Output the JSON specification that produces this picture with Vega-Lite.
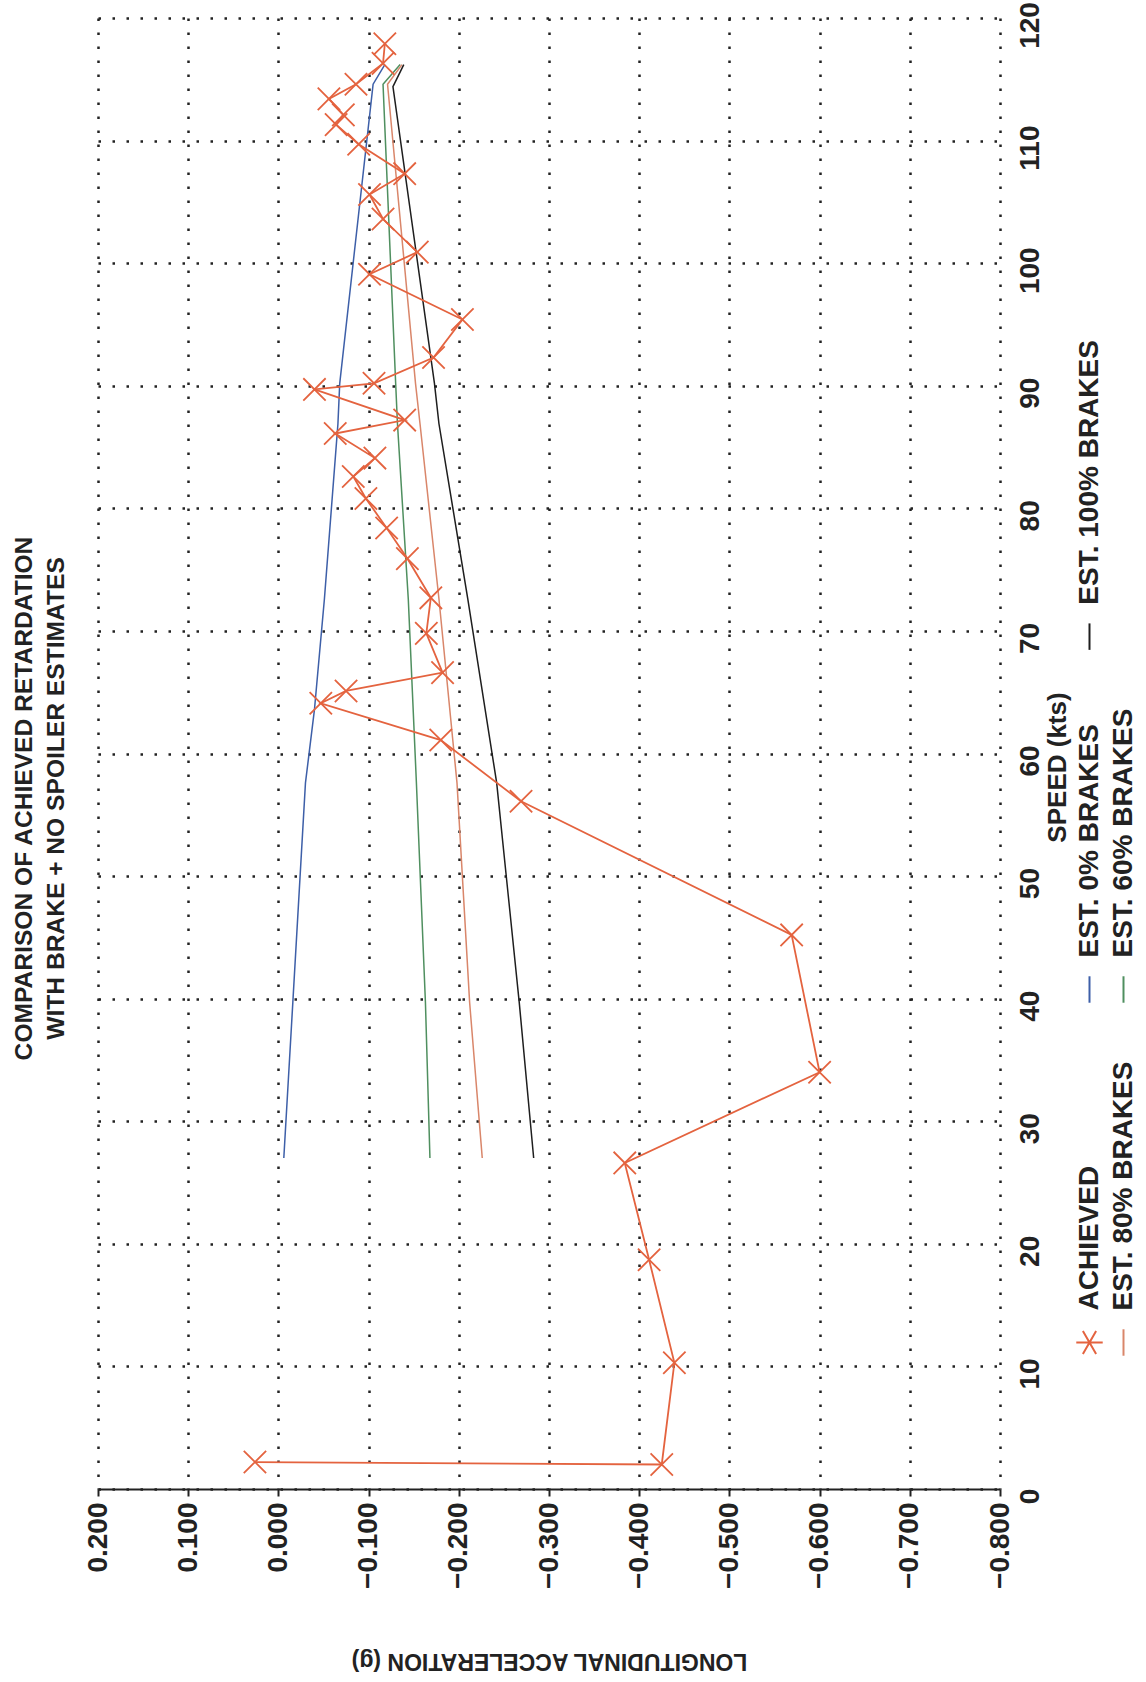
{
  "$schema": "https://vega.github.io/schema/vega-lite/v6.json",
  "width": 902,
  "height": 1471,
  "autosize": {"type": "none"},
  "padding": {"left": 98, "top": 18, "right": 146, "bottom": 193},
  "background": "white",
  "config": {"view": {"stroke": null}},
  "title": {
    "text": ["COMPARISON OF ACHIEVED RETARDATION", "WITH BRAKE + NO SPOILER ESTIMATES"],
    "orient": "left",
    "anchor": "middle",
    "frame": "group",
    "offset": 14,
    "dx": -45,
    "font": "Liberation Sans",
    "fontSize": 24.6,
    "fontWeight": "bold",
    "color": "#222",
    "lineHeight": 32
  },
  "datasets": {
    "achieved": [
      {"i": 1, "speed": 117.9, "acc": -0.118, "series": "ACHIEVED"},
      {"i": 2, "speed": 116.3, "acc": -0.116, "series": "ACHIEVED"},
      {"i": 3, "speed": 114.6, "acc": -0.086, "series": "ACHIEVED"},
      {"i": 4, "speed": 113.4, "acc": -0.056, "series": "ACHIEVED"},
      {"i": 5, "speed": 112.1, "acc": -0.072, "series": "ACHIEVED"},
      {"i": 6, "speed": 111.3, "acc": -0.064, "series": "ACHIEVED"},
      {"i": 7, "speed": 109.7, "acc": -0.089, "series": "ACHIEVED"},
      {"i": 8, "speed": 107.3, "acc": -0.140, "series": "ACHIEVED"},
      {"i": 9, "speed": 105.6, "acc": -0.101, "series": "ACHIEVED"},
      {"i": 10, "speed": 103.6, "acc": -0.116, "series": "ACHIEVED"},
      {"i": 11, "speed": 100.9, "acc": -0.154, "series": "ACHIEVED"},
      {"i": 12, "speed": 99.1, "acc": -0.101, "series": "ACHIEVED"},
      {"i": 13, "speed": 95.4, "acc": -0.204, "series": "ACHIEVED"},
      {"i": 14, "speed": 92.3, "acc": -0.172, "series": "ACHIEVED"},
      {"i": 15, "speed": 90.2, "acc": -0.106, "series": "ACHIEVED"},
      {"i": 16, "speed": 89.7, "acc": -0.040, "series": "ACHIEVED"},
      {"i": 17, "speed": 87.2, "acc": -0.140, "series": "ACHIEVED"},
      {"i": 18, "speed": 86.1, "acc": -0.063, "series": "ACHIEVED"},
      {"i": 19, "speed": 84.1, "acc": -0.107, "series": "ACHIEVED"},
      {"i": 20, "speed": 82.6, "acc": -0.083, "series": "ACHIEVED"},
      {"i": 21, "speed": 80.8, "acc": -0.097, "series": "ACHIEVED"},
      {"i": 22, "speed": 78.4, "acc": -0.120, "series": "ACHIEVED"},
      {"i": 23, "speed": 75.9, "acc": -0.143, "series": "ACHIEVED"},
      {"i": 24, "speed": 72.7, "acc": -0.169, "series": "ACHIEVED"},
      {"i": 25, "speed": 69.8, "acc": -0.164, "series": "ACHIEVED"},
      {"i": 26, "speed": 66.6, "acc": -0.182, "series": "ACHIEVED"},
      {"i": 27, "speed": 65.1, "acc": -0.075, "series": "ACHIEVED"},
      {"i": 28, "speed": 64.1, "acc": -0.047, "series": "ACHIEVED"},
      {"i": 29, "speed": 61.1, "acc": -0.180, "series": "ACHIEVED"},
      {"i": 30, "speed": 56.1, "acc": -0.269, "series": "ACHIEVED"},
      {"i": 31, "speed": 45.2, "acc": -0.569, "series": "ACHIEVED"},
      {"i": 32, "speed": 34.0, "acc": -0.600, "series": "ACHIEVED"},
      {"i": 33, "speed": 26.6, "acc": -0.384, "series": "ACHIEVED"},
      {"i": 34, "speed": 18.7, "acc": -0.411, "series": "ACHIEVED"},
      {"i": 35, "speed": 10.3, "acc": -0.439, "series": "ACHIEVED"},
      {"i": 36, "speed": 2.0, "acc": -0.425, "series": "ACHIEVED"},
      {"i": 37, "speed": 2.2, "acc": 0.026, "series": "ACHIEVED"}
    ],
    "estimates": [
      {"series": "EST. 0% BRAKES", "speed": 27.0, "acc": -0.006},
      {"series": "EST. 0% BRAKES", "speed": 39.7, "acc": -0.016},
      {"series": "EST. 0% BRAKES", "speed": 57.6, "acc": -0.030},
      {"series": "EST. 0% BRAKES", "speed": 63.6, "acc": -0.040},
      {"series": "EST. 0% BRAKES", "speed": 72.6, "acc": -0.051},
      {"series": "EST. 0% BRAKES", "speed": 86.9, "acc": -0.066},
      {"series": "EST. 0% BRAKES", "speed": 90.2, "acc": -0.068},
      {"series": "EST. 0% BRAKES", "speed": 114.6, "acc": -0.105},
      {"series": "EST. 0% BRAKES", "speed": 116.2, "acc": -0.118},
      {"series": "EST. 60% BRAKES", "speed": 27.0, "acc": -0.168},
      {"series": "EST. 60% BRAKES", "speed": 39.7, "acc": -0.163},
      {"series": "EST. 60% BRAKES", "speed": 57.6, "acc": -0.153},
      {"series": "EST. 60% BRAKES", "speed": 72.6, "acc": -0.144},
      {"series": "EST. 60% BRAKES", "speed": 86.9, "acc": -0.132},
      {"series": "EST. 60% BRAKES", "speed": 90.2, "acc": -0.130},
      {"series": "EST. 60% BRAKES", "speed": 114.6, "acc": -0.116},
      {"series": "EST. 60% BRAKES", "speed": 116.2, "acc": -0.135},
      {"series": "EST. 80% BRAKES", "speed": 27.0, "acc": -0.226},
      {"series": "EST. 80% BRAKES", "speed": 39.7, "acc": -0.212},
      {"series": "EST. 80% BRAKES", "speed": 57.6, "acc": -0.198},
      {"series": "EST. 80% BRAKES", "speed": 72.6, "acc": -0.178},
      {"series": "EST. 80% BRAKES", "speed": 86.9, "acc": -0.157},
      {"series": "EST. 80% BRAKES", "speed": 90.2, "acc": -0.152},
      {"series": "EST. 80% BRAKES", "speed": 114.6, "acc": -0.121},
      {"series": "EST. 80% BRAKES", "speed": 116.2, "acc": -0.137},
      {"series": "EST. 100% BRAKES", "speed": 27.0, "acc": -0.283},
      {"series": "EST. 100% BRAKES", "speed": 39.7, "acc": -0.267},
      {"series": "EST. 100% BRAKES", "speed": 57.6, "acc": -0.242},
      {"series": "EST. 100% BRAKES", "speed": 72.6, "acc": -0.210},
      {"series": "EST. 100% BRAKES", "speed": 86.9, "acc": -0.178},
      {"series": "EST. 100% BRAKES", "speed": 90.2, "acc": -0.173},
      {"series": "EST. 100% BRAKES", "speed": 114.4, "acc": -0.127},
      {"series": "EST. 100% BRAKES", "speed": 116.2, "acc": -0.139}
    ],
    "zeroLine": [
      {"speed": 0}, {"speed": 10}, {"speed": 20}, {"speed": 30}, {"speed": 40}, {"speed": 50}, {"speed": 60},
      {"speed": 70}, {"speed": 80}, {"speed": 90}, {"speed": 100}, {"speed": 110}, {"speed": 120}
    ]
  },
  "encoding": {
    "x": {
      "field": "acc", "type": "quantitative",
      "scale": {"domain": [-0.8, 0.2], "reverse": true, "nice": false, "zero": false},
      "axis": {
        "values": [0.2, 0.1, 0, -0.1, -0.2, -0.3, -0.4, -0.5, -0.6, -0.7, -0.8],
        "format": ".3f",
        "labelAngle": -90, "labelAlign": "right", "labelBaseline": "middle",
        "labelFont": "Liberation Sans", "labelFontWeight": "bold", "labelFontSize": 28,
        "labelColor": "#222", "labelPadding": 6, "labelOverlap": false, "labelFlush": false, "labelBound": false,
        "grid": true, "gridColor": "#222", "gridDash": [2.5, 11.5], "gridWidth": 2.5,
        "domain": true, "domainColor": "#222", "domainWidth": 2,
        "ticks": true, "tickColor": "#222", "tickSize": 7, "tickWidth": 2,
        "title": "LONGITUDINAL ACCELERATION (g)",
        "titleAngle": 180, "titleBaseline": "bottom",
        "titleFont": "Liberation Sans", "titleFontSize": 23, "titleFontWeight": "bold",
        "titleColor": "#222", "titlePadding": 60
      }
    },
    "y": {
      "field": "speed", "type": "quantitative",
      "scale": {"domain": [0, 120], "nice": false, "zero": false},
      "axis": {
        "orient": "right",
        "values": [0, 10, 20, 30, 40, 50, 60, 70, 80, 90, 100, 110, 120],
        "labelAngle": -90, "labelAlign": "center", "labelBaseline": "middle",
        "labelFont": "Liberation Sans", "labelFontWeight": "bold", "labelFontSize": 28,
        "labelColor": "#222", "labelPadding": 30, "labelOffset": 7,
        "labelOverlap": false, "labelFlush": false, "labelBound": false,
        "ticks": false, "tickSize": 0, "domain": false,
        "grid": true, "gridColor": "#222", "gridDash": [2.5, 11.5], "gridWidth": 2.5,
        "title": "SPEED (kts)",
        "titleAngle": -90, "titleBaseline": "top",
        "titleFont": "Liberation Sans", "titleFontSize": 26, "titleFontWeight": "bold",
        "titleColor": "#222", "titlePadding": 0, "titleY": 749
      }
    }
  },
  "layer": [
    {
      "data": {"name": "zeroLine"},
      "mark": {"type": "line", "color": "#222", "strokeWidth": 2},
      "encoding": {
        "x": {"datum": 0, "type": "quantitative"},
        "order": {"field": "speed", "type": "quantitative"}
      }
    },
    {
      "data": {"name": "zeroLine"},
      "mark": {"type": "tick", "orient": "horizontal", "size": 22, "thickness": 3, "color": "#333", "opacity": 1},
      "encoding": {
        "x": {"datum": 0, "type": "quantitative"}
      }
    },
    {
      "data": {"name": "estimates"},
      "mark": {"type": "line", "strokeWidth": 1.5},
      "encoding": {
        "color": {
          "field": "series", "type": "nominal",
          "scale": {
            "domain": ["EST. 100% BRAKES", "\u00a0", "EST. 0% BRAKES", "EST. 60% BRAKES", "ACHIEVED", "EST. 80% BRAKES"],
            "range": ["#1e1e1e", "transparent", "#3d5fa8", "#4f8f5f", "#e4633f", "#d9866a"]
          },
          "legend": {
            "orient": "none", "legendX": 977, "legendY": 604,
            "direction": "horizontal", "columns": 2,
            "title": null, "padding": 0,
            "labelFont": "Liberation Sans", "labelFontWeight": "bold", "labelFontSize": 28, "labelColor": "#222",
            "labelOffset": -14, "labelLimit": 600,
            "labelExpr": "datum.label == 'ACHIEVED' ? 'ACHIEVED\u00a0\u00a0\u00a0\u00a0\u00a0\u00a0\u00a0\u00a0\u00a0\u00a0\u00a0\u00a0\u00a0\u00a0' : datum.label",
            "symbolSize": 700, "symbolStrokeWidth": 2, "symbolOpacity": 1,
            "columnPadding": 2, "rowPadding": 54,
            "encoding": {"labels": {"angle": {"value": -90}, "dx": {"value": 32}}}
          }
        },
        "order": {"field": "speed", "type": "quantitative"}
      }
    },
    {
      "data": {"name": "achieved"},
      "mark": {"type": "line", "color": "#e4633f", "strokeWidth": 1.8},
      "encoding": {
        "order": {"field": "i", "type": "quantitative"}
      }
    },
    {
      "data": {"name": "achieved"},
      "mark": {"type": "point", "filled": false, "strokeWidth": 1.8, "size": 0},
      "encoding": {
        "color": {
          "field": "series", "type": "nominal",
          "scale": {
            "domain": ["EST. 100% BRAKES", "\u00a0", "EST. 0% BRAKES", "EST. 60% BRAKES", "ACHIEVED", "EST. 80% BRAKES"],
            "range": ["#1e1e1e", "transparent", "#3d5fa8", "#4f8f5f", "#e4633f", "#d9866a"]
          },
          "legend": {
            "orient": "none", "legendX": 977, "legendY": 604,
            "direction": "horizontal", "columns": 2,
            "title": null, "padding": 0,
            "labelFont": "Liberation Sans", "labelFontWeight": "bold", "labelFontSize": 28, "labelColor": "#222",
            "labelOffset": -14, "labelLimit": 600,
            "labelExpr": "datum.label == 'ACHIEVED' ? 'ACHIEVED\u00a0\u00a0\u00a0\u00a0\u00a0\u00a0\u00a0\u00a0\u00a0\u00a0\u00a0\u00a0\u00a0\u00a0' : datum.label",
            "symbolSize": 700, "symbolStrokeWidth": 2, "symbolOpacity": 1,
            "columnPadding": 2, "rowPadding": 54,
            "encoding": {"labels": {"angle": {"value": -90}, "dx": {"value": 32}}}
          }
        },
        "shape": {
          "field": "series", "type": "nominal",
          "scale": {
            "domain": ["EST. 100% BRAKES", "\u00a0", "EST. 0% BRAKES", "EST. 60% BRAKES", "ACHIEVED", "EST. 80% BRAKES"],
            "range": ["M0,-1L0,1", "M0,0", "M0,-1L0,1", "M0,-1L0,1", "M-1,0L1,0M-0.5,-0.866L0.5,0.866M-0.5,0.866L0.5,-0.866", "M0,-1L0,1"]
          },
          "legend": {
            "orient": "none", "legendX": 977, "legendY": 604,
            "direction": "horizontal", "columns": 2,
            "title": null, "padding": 0,
            "labelFont": "Liberation Sans", "labelFontWeight": "bold", "labelFontSize": 28, "labelColor": "#222",
            "labelOffset": -14, "labelLimit": 600,
            "labelExpr": "datum.label == 'ACHIEVED' ? 'ACHIEVED\u00a0\u00a0\u00a0\u00a0\u00a0\u00a0\u00a0\u00a0\u00a0\u00a0\u00a0\u00a0\u00a0\u00a0' : datum.label",
            "symbolSize": 700, "symbolStrokeWidth": 2, "symbolOpacity": 1,
            "columnPadding": 2, "rowPadding": 54,
            "encoding": {"labels": {"angle": {"value": -90}, "dx": {"value": 32}}}
          }
        }
      }
    },
    {
      "data": {"name": "achieved"},
      "mark": {"type": "point", "filled": false, "strokeWidth": 1.8, "size": 500, "opacity": 1, "shape": "M-1,-1L1,1M-1,1L1,-1", "color": "#e4633f"},
      "encoding": {}
    }
  ]
}
